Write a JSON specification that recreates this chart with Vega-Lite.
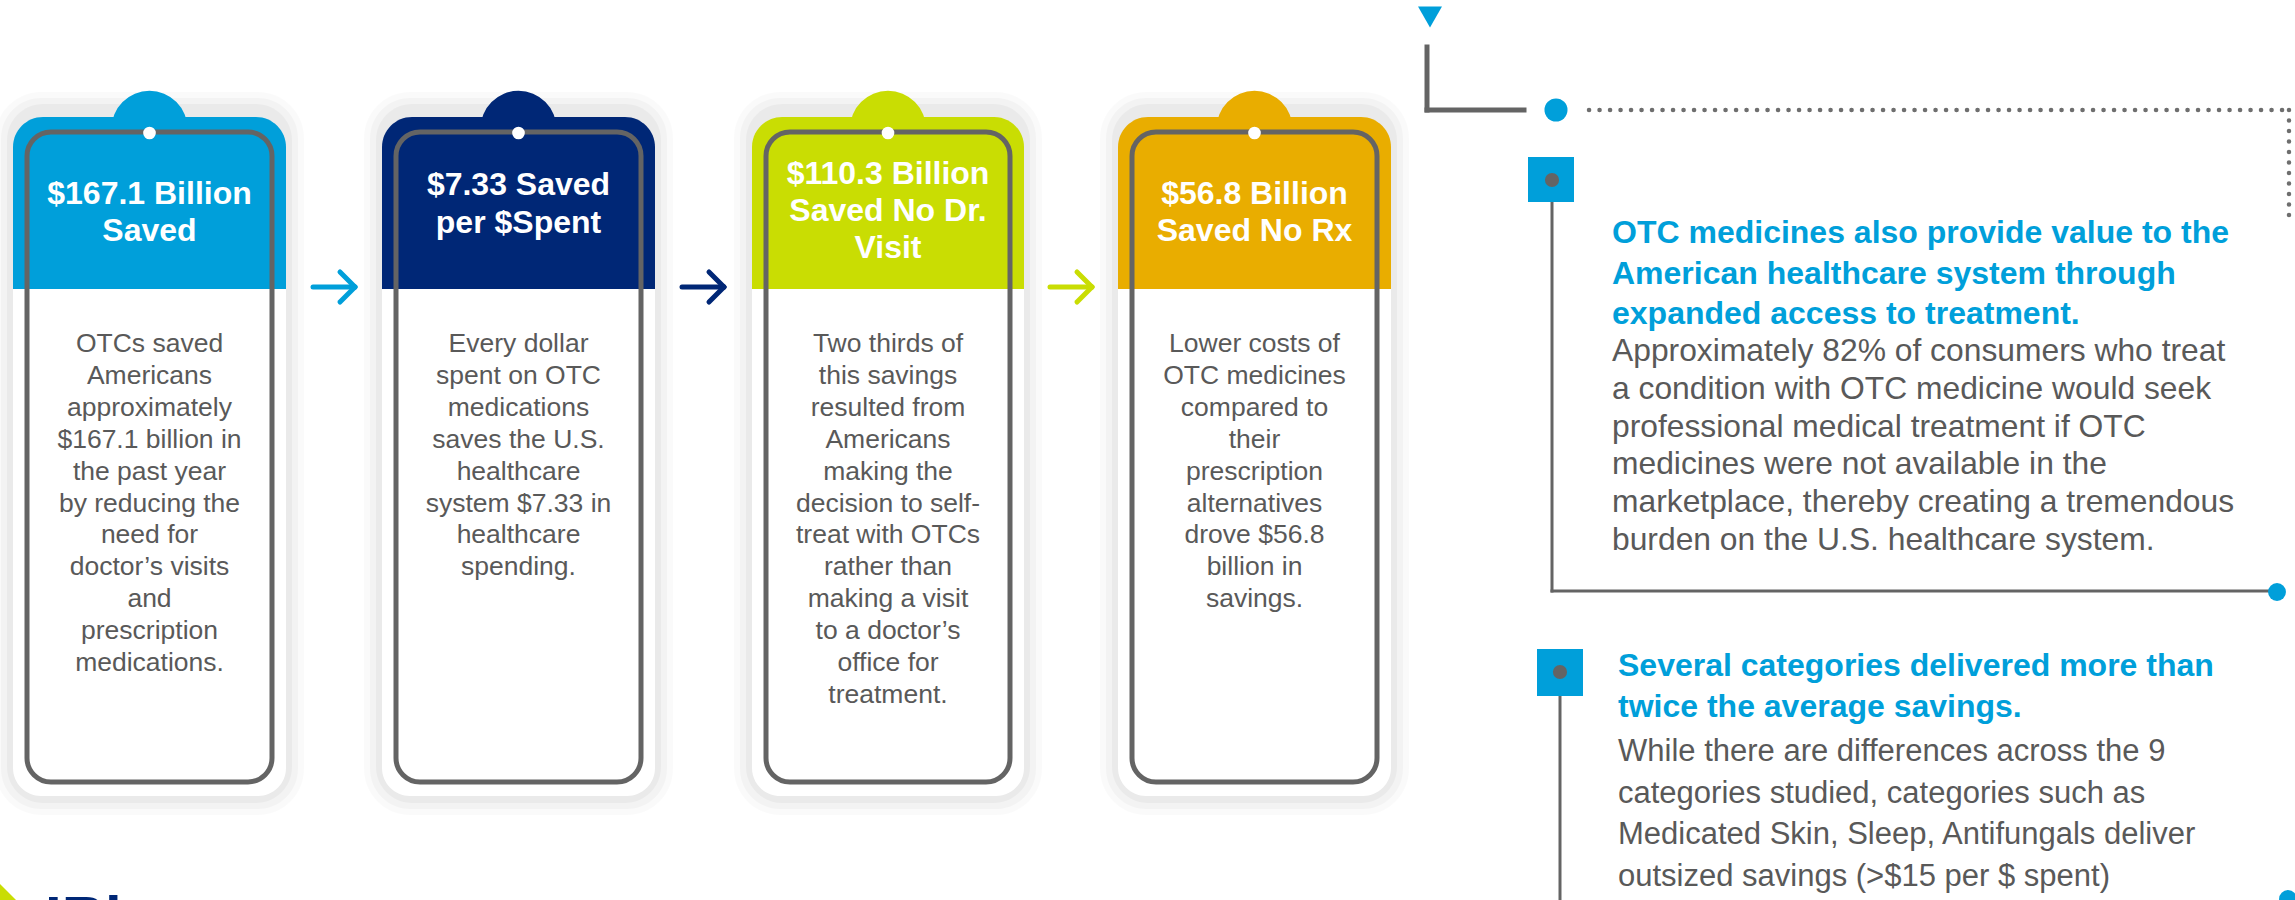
{
  "$schema": "https://vega.github.io/schema/vega-lite/v6.json",
  "width": 2295,
  "height": 900,
  "padding": 0,
  "autosize": {"type": "none"},
  "background": "#ffffff",
  "config": {"view": {"stroke": null}},
  "datasets": {
    "cards": [
      {"step": "1", "left": 13, "right": 286, "mid": 149.5, "title": ["$167.1 Billion", "Saved"], "body": ["OTCs saved", "Americans", "approximately", "$167.1 billion in", "the past year", "by reducing the", "need for", "doctor’s visits", "and", "prescription", "medications."]},
      {"step": "2", "left": 382, "right": 655, "mid": 518.5, "title": ["$7.33 Saved", "per $Spent"], "body": ["Every dollar", "spent on OTC", "medications", "saves the U.S.", "healthcare", "system $7.33 in", "healthcare", "spending."]},
      {"step": "3", "left": 752, "right": 1024, "mid": 888, "title": ["$110.3 Billion", "Saved No Dr.", "Visit"], "body": ["Two thirds of", "this savings", "resulted from", "Americans", "making the", "decision to self-", "treat with OTCs", "rather than", "making a visit", "to a doctor’s", "office for", "treatment."]},
      {"step": "4", "left": 1118, "right": 1391, "mid": 1254.5, "title": ["$56.8 Billion", "Saved No Rx"], "body": ["Lower costs of", "OTC medicines", "compared to", "their", "prescription", "alternatives", "drove $56.8", "billion in", "savings."]}
    ],
    "arrows": [
      {"step": "1", "x": 313, "y": 287, "x2": 355, "y2": 287},
      {"step": "1", "x": 340, "y": 272, "x2": 355, "y2": 287},
      {"step": "1", "x": 340, "y": 302, "x2": 355, "y2": 287},
      {"step": "2", "x": 682, "y": 287, "x2": 724, "y2": 287},
      {"step": "2", "x": 709, "y": 272, "x2": 724, "y2": 287},
      {"step": "2", "x": 709, "y": 302, "x2": 724, "y2": 287},
      {"step": "3", "x": 1050, "y": 287, "x2": 1092, "y2": 287},
      {"step": "3", "x": 1077, "y": 272, "x2": 1092, "y2": 287},
      {"step": "3", "x": 1077, "y": 302, "x2": 1092, "y2": 287}
    ],
    "connectors": [
      {"style": "thick", "x": 1427, "y": 47, "x2": 1427, "y2": 110},
      {"style": "thick", "x": 1427, "y": 110, "x2": 1524, "y2": 110},
      {"style": "thin", "x": 1552, "y": 180, "x2": 1552, "y2": 591},
      {"style": "thin", "x": 1552, "y": 591, "x2": 2272, "y2": 591},
      {"style": "thin", "x": 1560, "y": 672, "x2": 1560, "y2": 905},
      {"style": "dots", "x": 1589, "y": 110, "x2": 2289, "y2": 110},
      {"style": "dots", "x": 2289, "y": 110, "x2": 2289, "y2": 215}
    ],
    "nodes": [
      {"kind": "blueL", "x": 1556, "y": 110},
      {"kind": "blueS", "x": 2277, "y": 592},
      {"kind": "blueS", "x": 2288, "y": 899},
      {"kind": "gray", "x": 1552, "y": 180},
      {"kind": "gray", "x": 1560, "y": 672}
    ],
    "squares": [
      {"x": 1528, "x2": 1574, "y": 157, "y2": 202},
      {"x": 1537, "x2": 1583, "y": 649, "y2": 696}
    ],
    "marker": [{"x": 1430, "y": 17}],
    "logo": [{"x": 10, "y": 894, "tx": 45, "ty": 891, "label": "IRi"}],
    "notes": [
      {"part": "h1", "x": 1612, "y": 243, "lines": ["OTC medicines also provide value to the", "American healthcare system through", "expanded access to treatment."]},
      {"part": "b1", "x": 1612, "y": 361, "lines": ["Approximately 82% of consumers who treat", "a condition with OTC medicine would seek", "professional medical treatment if OTC", "medicines were not available in the", "marketplace, thereby creating a tremendous", "burden on the U.S. healthcare system."]},
      {"part": "h2", "x": 1618, "y": 676, "lines": ["Several categories delivered more than", "twice the average savings."]},
      {"part": "b2", "x": 1618, "y": 761, "lines": ["While there are differences across the 9", "categories studied, categories such as", "Medicated Skin, Sleep, Antifungals deliver", "outsized savings (>$15 per $ spent)"]}
    ]
  },
  "layer": [
    {"data": {"name": "cards"}, "mark": {"type": "rect", "color": "#000000", "opacity": 0.02, "cornerRadius": 46, "xOffset": -18, "x2Offset": 18, "yOffset": -18, "y2Offset": 18},
     "encoding": {"x": {"field": "left", "type": "quantitative", "scale": {"domain": [0, 2295], "nice": false, "zero": false}, "axis": null}, "x2": {"field": "right"}, "y": {"datum": 110, "type": "quantitative", "scale": {"domain": [0, 900], "nice": false, "zero": false, "reverse": true}, "axis": null}, "y2": {"datum": 797}}},
    {"data": {"name": "cards"}, "mark": {"type": "rect", "color": "#000000", "opacity": 0.028, "cornerRadius": 40, "xOffset": -12, "x2Offset": 12, "yOffset": -12, "y2Offset": 12},
     "encoding": {"x": {"field": "left", "type": "quantitative", "scale": {"domain": [0, 2295], "nice": false, "zero": false}, "axis": null}, "x2": {"field": "right"}, "y": {"datum": 110, "type": "quantitative", "scale": {"domain": [0, 900], "nice": false, "zero": false, "reverse": true}, "axis": null}, "y2": {"datum": 797}}},
    {"data": {"name": "cards"}, "mark": {"type": "rect", "color": "#000000", "opacity": 0.035, "cornerRadius": 36, "xOffset": -6, "x2Offset": 6, "yOffset": -6, "y2Offset": 6},
     "encoding": {"x": {"field": "left", "type": "quantitative", "scale": {"domain": [0, 2295], "nice": false, "zero": false}, "axis": null}, "x2": {"field": "right"}, "y": {"datum": 110, "type": "quantitative", "scale": {"domain": [0, 900], "nice": false, "zero": false, "reverse": true}, "axis": null}, "y2": {"datum": 797}}},
    {"data": {"name": "cards"}, "mark": {"type": "point", "filled": true, "opacity": 1, "size": 5810, "strokeWidth": 0},
     "encoding": {"x": {"field": "mid", "type": "quantitative", "scale": {"domain": [0, 2295], "nice": false, "zero": false}, "axis": null}, "y": {"datum": 129, "type": "quantitative", "scale": {"domain": [0, 900], "nice": false, "zero": false, "reverse": true}, "axis": null},
       "color": {"field": "step", "type": "nominal", "scale": {"domain": ["1", "2", "3", "4"], "range": ["#009FDA", "#002776", "#C9DD03", "#E9AD00"]}, "legend": null}}},
    {"data": {"name": "cards"}, "mark": {"type": "rect", "cornerRadiusTopLeft": 30, "cornerRadiusTopRight": 30},
     "encoding": {"x": {"field": "left", "type": "quantitative", "scale": {"domain": [0, 2295], "nice": false, "zero": false}, "axis": null}, "x2": {"field": "right"}, "y": {"datum": 117, "type": "quantitative", "scale": {"domain": [0, 900], "nice": false, "zero": false, "reverse": true}, "axis": null}, "y2": {"datum": 290},
       "color": {"field": "step", "type": "nominal", "scale": {"domain": ["1", "2", "3", "4"], "range": ["#009FDA", "#002776", "#C9DD03", "#E9AD00"]}, "legend": null}}},
    {"data": {"name": "cards"}, "mark": {"type": "rect", "color": "#ffffff", "cornerRadiusBottomLeft": 28, "cornerRadiusBottomRight": 28},
     "encoding": {"x": {"field": "left", "type": "quantitative", "scale": {"domain": [0, 2295], "nice": false, "zero": false}, "axis": null}, "x2": {"field": "right"}, "y": {"datum": 289, "type": "quantitative", "scale": {"domain": [0, 900], "nice": false, "zero": false, "reverse": true}, "axis": null}, "y2": {"datum": 796}}},
    {"data": {"name": "cards"}, "mark": {"type": "rect", "filled": false, "color": "#646464", "strokeWidth": 5, "cornerRadius": 24, "xOffset": 14, "x2Offset": -14},
     "encoding": {"x": {"field": "left", "type": "quantitative", "scale": {"domain": [0, 2295], "nice": false, "zero": false}, "axis": null}, "x2": {"field": "right"}, "y": {"datum": 132, "type": "quantitative", "scale": {"domain": [0, 900], "nice": false, "zero": false, "reverse": true}, "axis": null}, "y2": {"datum": 782}}},
    {"data": {"name": "cards"}, "mark": {"type": "point", "filled": true, "opacity": 1, "color": "#ffffff", "size": 160, "strokeWidth": 0},
     "encoding": {"x": {"field": "mid", "type": "quantitative", "scale": {"domain": [0, 2295], "nice": false, "zero": false}, "axis": null}, "y": {"datum": 133, "type": "quantitative", "scale": {"domain": [0, 900], "nice": false, "zero": false, "reverse": true}, "axis": null}}},
    {"data": {"name": "cards"}, "transform": [{"filter": "datum.step === '1' || datum.step === '4'"}], "mark": {"type": "text", "align": "center", "baseline": "alphabetic", "font": "Liberation Sans", "fontSize": 32, "fontWeight": "bold", "color": "#ffffff", "lineHeight": 37},
     "encoding": {"x": {"field": "mid", "type": "quantitative", "scale": {"domain": [0, 2295], "nice": false, "zero": false}, "axis": null}, "y": {"datum": 204, "type": "quantitative", "scale": {"domain": [0, 900], "nice": false, "zero": false, "reverse": true}, "axis": null}, "text": {"field": "title"}}},
    {"data": {"name": "cards"}, "transform": [{"filter": "datum.step === '2'"}], "mark": {"type": "text", "align": "center", "baseline": "alphabetic", "font": "Liberation Sans", "fontSize": 32, "fontWeight": "bold", "color": "#ffffff", "lineHeight": 38},
     "encoding": {"x": {"field": "mid", "type": "quantitative", "scale": {"domain": [0, 2295], "nice": false, "zero": false}, "axis": null}, "y": {"datum": 195, "type": "quantitative", "scale": {"domain": [0, 900], "nice": false, "zero": false, "reverse": true}, "axis": null}, "text": {"field": "title"}}},
    {"data": {"name": "cards"}, "transform": [{"filter": "datum.step === '3'"}], "mark": {"type": "text", "align": "center", "baseline": "alphabetic", "font": "Liberation Sans", "fontSize": 32, "fontWeight": "bold", "color": "#ffffff", "lineHeight": 37},
     "encoding": {"x": {"field": "mid", "type": "quantitative", "scale": {"domain": [0, 2295], "nice": false, "zero": false}, "axis": null}, "y": {"datum": 184, "type": "quantitative", "scale": {"domain": [0, 900], "nice": false, "zero": false, "reverse": true}, "axis": null}, "text": {"field": "title"}}},
    {"data": {"name": "cards"}, "mark": {"type": "text", "align": "center", "baseline": "alphabetic", "font": "Liberation Sans", "fontSize": 26.5, "color": "#595959", "lineHeight": 31.9},
     "encoding": {"x": {"field": "mid", "type": "quantitative", "scale": {"domain": [0, 2295], "nice": false, "zero": false}, "axis": null}, "y": {"datum": 352, "type": "quantitative", "scale": {"domain": [0, 900], "nice": false, "zero": false, "reverse": true}, "axis": null}, "text": {"field": "body"}}},
    {"data": {"name": "arrows"}, "mark": {"type": "rule", "strokeWidth": 5, "strokeCap": "round"},
     "encoding": {"x": {"field": "x", "type": "quantitative", "scale": {"domain": [0, 2295], "nice": false, "zero": false}, "axis": null}, "y": {"field": "y", "type": "quantitative", "scale": {"domain": [0, 900], "nice": false, "zero": false, "reverse": true}, "axis": null}, "x2": {"field": "x2"}, "y2": {"field": "y2"},
       "color": {"field": "step", "type": "nominal", "scale": {"domain": ["1", "2", "3", "4"], "range": ["#009FDA", "#002776", "#C9DD03", "#E9AD00"]}, "legend": null}}},
    {"data": {"name": "connectors"}, "transform": [{"filter": "datum.style === 'thick'"}], "mark": {"type": "rule", "strokeWidth": 5, "strokeCap": "square", "color": "#646464"},
     "encoding": {"x": {"field": "x", "type": "quantitative", "scale": {"domain": [0, 2295], "nice": false, "zero": false}, "axis": null}, "y": {"field": "y", "type": "quantitative", "scale": {"domain": [0, 900], "nice": false, "zero": false, "reverse": true}, "axis": null}, "x2": {"field": "x2"}, "y2": {"field": "y2"}}},
    {"data": {"name": "connectors"}, "transform": [{"filter": "datum.style === 'thin'"}], "mark": {"type": "rule", "strokeWidth": 3, "strokeCap": "square", "color": "#646464"},
     "encoding": {"x": {"field": "x", "type": "quantitative", "scale": {"domain": [0, 2295], "nice": false, "zero": false}, "axis": null}, "y": {"field": "y", "type": "quantitative", "scale": {"domain": [0, 900], "nice": false, "zero": false, "reverse": true}, "axis": null}, "x2": {"field": "x2"}, "y2": {"field": "y2"}}},
    {"data": {"name": "connectors"}, "transform": [{"filter": "datum.style === 'dots'"}], "mark": {"type": "rule", "strokeWidth": 4.5, "strokeCap": "round", "strokeDash": [0.1, 10.4], "color": "#6e6e6e"},
     "encoding": {"x": {"field": "x", "type": "quantitative", "scale": {"domain": [0, 2295], "nice": false, "zero": false}, "axis": null}, "y": {"field": "y", "type": "quantitative", "scale": {"domain": [0, 900], "nice": false, "zero": false, "reverse": true}, "axis": null}, "x2": {"field": "x2"}, "y2": {"field": "y2"}}},
    {"data": {"name": "squares"}, "mark": {"type": "rect", "color": "#009FDA"},
     "encoding": {"x": {"field": "x", "type": "quantitative", "scale": {"domain": [0, 2295], "nice": false, "zero": false}, "axis": null}, "y": {"field": "y", "type": "quantitative", "scale": {"domain": [0, 900], "nice": false, "zero": false, "reverse": true}, "axis": null}, "x2": {"field": "x2"}, "y2": {"field": "y2"}}},
    {"data": {"name": "nodes"}, "transform": [{"filter": "datum.kind === 'blueL'"}], "mark": {"type": "point", "filled": true, "opacity": 1, "size": 531, "strokeWidth": 0, "color": "#009FDA"},
     "encoding": {"x": {"field": "x", "type": "quantitative", "scale": {"domain": [0, 2295], "nice": false, "zero": false}, "axis": null}, "y": {"field": "y", "type": "quantitative", "scale": {"domain": [0, 900], "nice": false, "zero": false, "reverse": true}, "axis": null}}},
    {"data": {"name": "nodes"}, "transform": [{"filter": "datum.kind === 'blueS'"}], "mark": {"type": "point", "filled": true, "opacity": 1, "size": 320, "strokeWidth": 0, "color": "#009FDA"},
     "encoding": {"x": {"field": "x", "type": "quantitative", "scale": {"domain": [0, 2295], "nice": false, "zero": false}, "axis": null}, "y": {"field": "y", "type": "quantitative", "scale": {"domain": [0, 900], "nice": false, "zero": false, "reverse": true}, "axis": null}}},
    {"data": {"name": "nodes"}, "transform": [{"filter": "datum.kind === 'gray'"}], "mark": {"type": "point", "filled": true, "opacity": 1, "size": 201, "strokeWidth": 0, "color": "#646464"},
     "encoding": {"x": {"field": "x", "type": "quantitative", "scale": {"domain": [0, 2295], "nice": false, "zero": false}, "axis": null}, "y": {"field": "y", "type": "quantitative", "scale": {"domain": [0, 900], "nice": false, "zero": false, "reverse": true}, "axis": null}}},
    {"data": {"name": "marker"}, "mark": {"type": "point", "shape": "triangle-down", "filled": true, "opacity": 1, "size": 576, "strokeWidth": 0, "color": "#009FDA"},
     "encoding": {"x": {"field": "x", "type": "quantitative", "scale": {"domain": [0, 2295], "nice": false, "zero": false}, "axis": null}, "y": {"field": "y", "type": "quantitative", "scale": {"domain": [0, 900], "nice": false, "zero": false, "reverse": true}, "axis": null}}},
    {"data": {"name": "logo"}, "mark": {"type": "point", "shape": "M-1,-1L1,1L-1,1Z", "filled": true, "opacity": 1, "size": 400, "strokeWidth": 0, "color": "#C9DD03"},
     "encoding": {"x": {"field": "x", "type": "quantitative", "scale": {"domain": [0, 2295], "nice": false, "zero": false}, "axis": null}, "y": {"field": "y", "type": "quantitative", "scale": {"domain": [0, 900], "nice": false, "zero": false, "reverse": true}, "axis": null}}},
    {"data": {"name": "logo"}, "mark": {"type": "text", "align": "left", "baseline": "top", "font": "Liberation Sans", "fontSize": 60, "fontWeight": "bold", "color": "#002776"},
     "encoding": {"x": {"field": "tx", "type": "quantitative", "scale": {"domain": [0, 2295], "nice": false, "zero": false}, "axis": null}, "y": {"field": "ty", "type": "quantitative", "scale": {"domain": [0, 900], "nice": false, "zero": false, "reverse": true}, "axis": null}, "text": {"field": "label"}}},
    {"data": {"name": "notes"}, "transform": [{"filter": "datum.part === 'h1'"}], "mark": {"type": "text", "align": "left", "baseline": "alphabetic", "font": "Liberation Sans", "fontSize": 32, "fontWeight": "bold", "color": "#009FDA", "lineHeight": 40.5},
     "encoding": {"x": {"field": "x", "type": "quantitative", "scale": {"domain": [0, 2295], "nice": false, "zero": false}, "axis": null}, "y": {"field": "y", "type": "quantitative", "scale": {"domain": [0, 900], "nice": false, "zero": false, "reverse": true}, "axis": null}, "text": {"field": "lines"}}},
    {"data": {"name": "notes"}, "transform": [{"filter": "datum.part === 'b1'"}], "mark": {"type": "text", "align": "left", "baseline": "alphabetic", "font": "Liberation Sans", "fontSize": 31.8, "color": "#595959", "lineHeight": 37.8},
     "encoding": {"x": {"field": "x", "type": "quantitative", "scale": {"domain": [0, 2295], "nice": false, "zero": false}, "axis": null}, "y": {"field": "y", "type": "quantitative", "scale": {"domain": [0, 900], "nice": false, "zero": false, "reverse": true}, "axis": null}, "text": {"field": "lines"}}},
    {"data": {"name": "notes"}, "transform": [{"filter": "datum.part === 'h2'"}], "mark": {"type": "text", "align": "left", "baseline": "alphabetic", "font": "Liberation Sans", "fontSize": 32, "fontWeight": "bold", "color": "#009FDA", "lineHeight": 40.5},
     "encoding": {"x": {"field": "x", "type": "quantitative", "scale": {"domain": [0, 2295], "nice": false, "zero": false}, "axis": null}, "y": {"field": "y", "type": "quantitative", "scale": {"domain": [0, 900], "nice": false, "zero": false, "reverse": true}, "axis": null}, "text": {"field": "lines"}}},
    {"data": {"name": "notes"}, "transform": [{"filter": "datum.part === 'b2'"}], "mark": {"type": "text", "align": "left", "baseline": "alphabetic", "font": "Liberation Sans", "fontSize": 31, "color": "#595959", "lineHeight": 41.5},
     "encoding": {"x": {"field": "x", "type": "quantitative", "scale": {"domain": [0, 2295], "nice": false, "zero": false}, "axis": null}, "y": {"field": "y", "type": "quantitative", "scale": {"domain": [0, 900], "nice": false, "zero": false, "reverse": true}, "axis": null}, "text": {"field": "lines"}}}
  ]
}
